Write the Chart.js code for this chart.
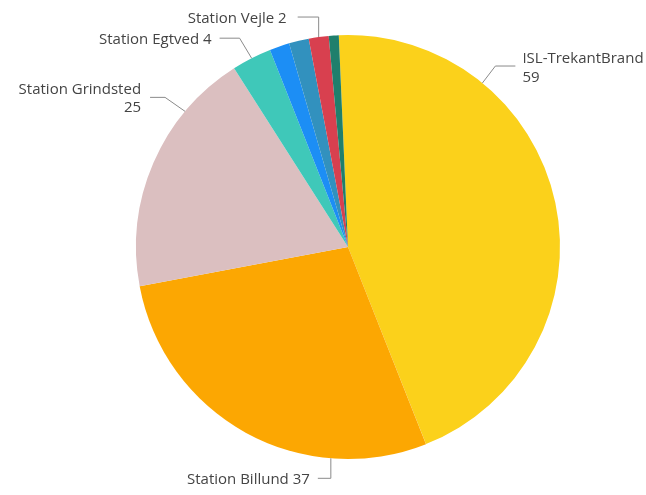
<!DOCTYPE html>
<html>
<head>
<meta charset="utf-8">
<script src="https://cdn.jsdelivr.net/npm/chart.js@4"></script>
<style>
  html, body { margin: 0; padding: 0; background: #fff; }
  #wrap { width: 646px; height: 495px; }
</style>
</head>
<body>
<div id="wrap"><canvas id="pieChart" width="646" height="495"></canvas></div>
<script>
// data
const categories = ['ISL-TrekantBrand', 'Station Billund', 'Station Grindsted', 'Station Egtved', 'Øvrig A', 'Øvrig B', 'Station Vejle', 'Øvrig C'];
const values = [59, 37, 25, 4, 2, 2, 2, 1];
const sliceColors = ['#FBD11B', '#FCA702', '#DBBFC0', '#3FC8B9', '#1C8EF5', '#3291BE', '#D8404F', '#1F7F6C'];

// labels with leader lines (index, position within slice, elbow offset, side)
const labelSetup = [
    { i: 0, frac: 0.26, dx: 13, dy: -17, len: 20, gap: 7, side: 1, lines: ['ISL-TrekantBrand', '59'], off: [-7, 12] },
    { i: 1, frac: 0.26, dx: 0, dy: 20, len: 13, gap: 8, side: -1, lines: ['Station Billund 37'], off: [1] },
    { i: 2, frac: 0.74, dx: -20, dy: -14, len: 15, gap: 9, side: -1, lines: ['Station Grindsted', '25'], off: [-8, 10] },
    { i: 3, frac: 0.5, dx: -12, dy: -20, len: 20, gap: 8, side: -1, lines: ['Station Egtved 4'], off: [2] },
    { i: 6, frac: 0.5, dx: 0, dy: -20, len: 21, gap: 11, side: -1, lines: ['Station Vejle 2'], off: [2] }
];

const leaderLabels = {
    id: 'leaderLabels',
    afterDraw(chart) {
        const ctx = chart.ctx;
        const meta = chart.getDatasetMeta(0);
        ctx.save();
        ctx.font = '15px "Open Sans", "Noto Sans", sans-serif';
        ctx.textBaseline = 'middle';
        labelSetup.forEach(l => {
            const arc = meta.data[l.i];
            const a = arc.startAngle + l.frac * (arc.endAngle - arc.startAngle);
            const r = arc.outerRadius;
            const ax = arc.x + Math.cos(a) * r;
            const ay = arc.y + Math.sin(a) * r;
            const ex = ax + l.dx;
            const ey = ay + l.dy;
            const hx = ex + l.len * l.side;

            ctx.strokeStyle = '#8a8a8a';
            ctx.lineWidth = 1;
            ctx.beginPath();
            ctx.moveTo(ax, ay);
            ctx.lineTo(ex, ey);
            ctx.lineTo(hx, ey);
            ctx.stroke();

            ctx.fillStyle = '#444';
            ctx.textAlign = l.side > 0 ? 'left' : 'right';
            const tx = hx + l.gap * l.side;
            l.lines.forEach((t, k) => ctx.fillText(t, tx, ey + l.off[k]));
        });
        ctx.restore();
    }
};

new Chart(document.getElementById('pieChart'), {
    type: 'pie',
    data: {
        labels: categories,
        datasets: [{
            data: values,
            backgroundColor: sliceColors,
            borderWidth: 0
        }]
    },
    options: {
        responsive: false,
        animation: false,
        rotation: -2.5,
        layout: {
            padding: { left: 50, right: 0, top: 35, bottom: 36 }
        },
        plugins: {
            legend: { display: false },
            tooltip: { enabled: false }
        }
    },
    plugins: [leaderLabels]
});
</script>
</body>
</html>
